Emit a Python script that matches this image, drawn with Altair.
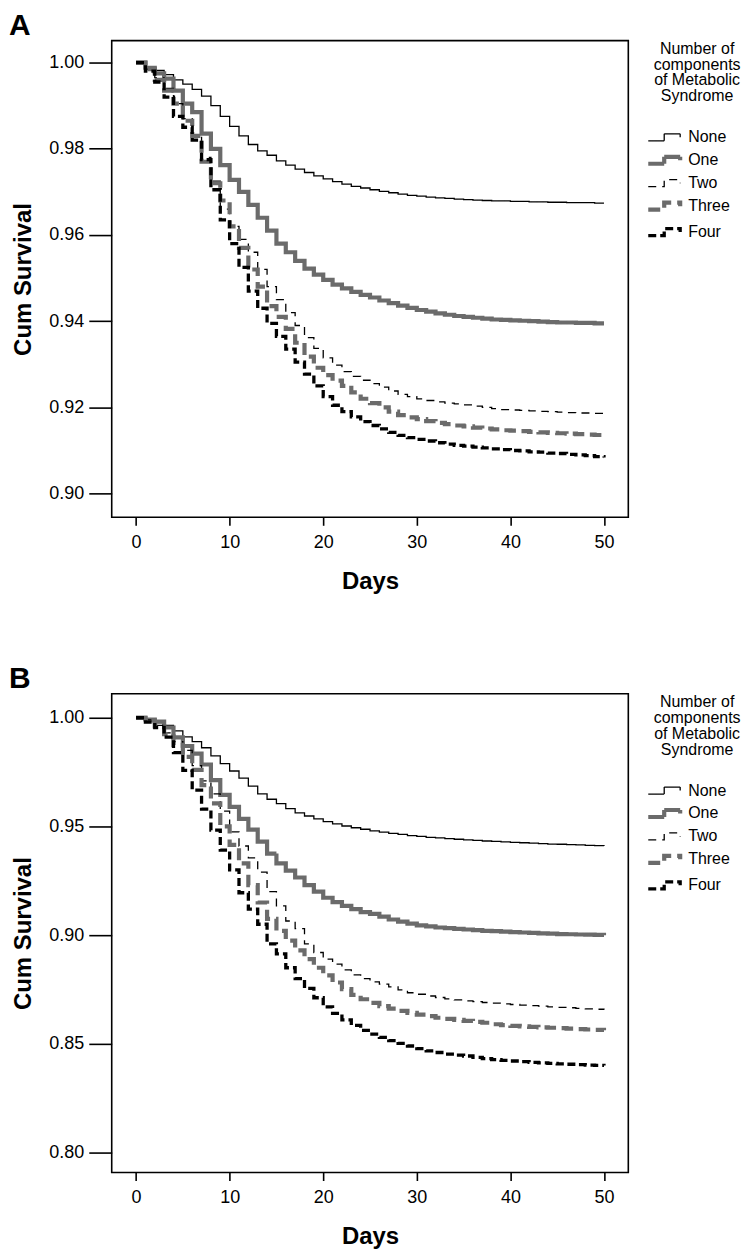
import altair as alt
import pandas as pd

FONT = "Liberation Sans"

days = list(range(0, 51))
groups = ["None", "One", "Two", "Three", "Four"]

# ---- Panel A (daily Kaplan-Meier steps) ----
a_none = [1.0000, 0.9990, 0.9982, 0.9972, 0.9960, 0.9950, 0.9938, 0.9922, 0.9900, 0.9875,
          0.9852, 0.9830, 0.9810, 0.9795, 0.9785, 0.9772, 0.9762, 0.9753, 0.9745, 0.9737,
          0.9730, 0.9724, 0.9718, 0.9713, 0.9709, 0.9705, 0.9701, 0.9698, 0.9695, 0.9692,
          0.9690, 0.9688, 0.9686, 0.9685, 0.9683, 0.9682, 0.9681, 0.9680, 0.9679, 0.9679,
          0.9678, 0.9678, 0.9677, 0.9677, 0.9676, 0.9676, 0.9675, 0.9675, 0.9675, 0.9674, 0.9674]
a_one = [1.0000, 0.9988, 0.9975, 0.9963, 0.9935, 0.9905, 0.9885, 0.9835, 0.9800, 0.9762,
         0.9728, 0.9700, 0.9670, 0.9640, 0.9610, 0.9580, 0.9560, 0.9540, 0.9522, 0.9508,
         0.9496, 0.9485, 0.9476, 0.9468, 0.9461, 0.9455, 0.9448, 0.9442, 0.9436, 0.9431,
         0.9426, 0.9422, 0.9418, 0.9415, 0.9412, 0.9410, 0.9408, 0.9406, 0.9404, 0.9403,
         0.9402, 0.9401, 0.9400, 0.9399, 0.9398, 0.9397, 0.9397, 0.9396, 0.9396, 0.9395, 0.9395]
a_two = [1.0000, 0.9985, 0.9965, 0.9940, 0.9905, 0.9870, 0.9830, 0.9780, 0.9725, 0.9660,
         0.9620, 0.9590, 0.9560, 0.9520, 0.9480, 0.9450, 0.9420, 0.9390, 0.9362, 0.9337,
         0.9315, 0.9298, 0.9283, 0.9272, 0.9263, 0.9255, 0.9247, 0.9238, 0.9230, 0.9225,
         0.9220, 0.9216, 0.9213, 0.9210, 0.9208, 0.9206, 0.9203, 0.9200, 0.9197, 0.9195,
         0.9194, 0.9193, 0.9192, 0.9191, 0.9190, 0.9189, 0.9188, 0.9187, 0.9187, 0.9186, 0.9186]
a_three = [1.0000, 0.9985, 0.9960, 0.9935, 0.9905, 0.9865, 0.9830, 0.9770, 0.9720, 0.9680,
           0.9620, 0.9570, 0.9520, 0.9480, 0.9435, 0.9410, 0.9382, 0.9350, 0.9318, 0.9292,
           0.9275, 0.9262, 0.9250, 0.9235, 0.9220, 0.9210, 0.9200, 0.9190, 0.9182, 0.9177,
           0.9173, 0.9168, 0.9164, 0.9161, 0.9158, 0.9156, 0.9153, 0.9151, 0.9149, 0.9147,
           0.9146, 0.9145, 0.9143, 0.9142, 0.9141, 0.9140, 0.9139, 0.9138, 0.9137, 0.9136, 0.9135]
a_four = [1.0000, 0.9980, 0.9955, 0.9920, 0.9875, 0.9850, 0.9820, 0.9775, 0.9705, 0.9635,
          0.9580, 0.9525, 0.9470, 0.9430, 0.9395, 0.9365, 0.9335, 0.9305, 0.9277, 0.9250,
          0.9225, 0.9205, 0.9190, 0.9178, 0.9167, 0.9158, 0.9150, 0.9142, 0.9135, 0.9130,
          0.9126, 0.9122, 0.9118, 0.9115, 0.9112, 0.9110, 0.9108, 0.9106, 0.9104, 0.9102,
          0.9100, 0.9099, 0.9097, 0.9096, 0.9094, 0.9093, 0.9091, 0.9090, 0.9088, 0.9086, 0.9084]

# ---- Panel B ----
b_none = [1.0000, 0.9988, 0.9978, 0.9965, 0.9940, 0.9912, 0.9890, 0.9862, 0.9825, 0.9789,
          0.9755, 0.9722, 0.9685, 0.9650, 0.9625, 0.9605, 0.9582, 0.9562, 0.9548, 0.9535,
          0.9522, 0.9512, 0.9502, 0.9494, 0.9487, 0.9480, 0.9474, 0.9468, 0.9463, 0.9458,
          0.9454, 0.9450, 0.9447, 0.9444, 0.9441, 0.9438, 0.9436, 0.9433, 0.9431, 0.9429,
          0.9427, 0.9425, 0.9423, 0.9421, 0.9419, 0.9418, 0.9416, 0.9415, 0.9413, 0.9412, 0.9410]
b_one = [1.0000, 0.9992, 0.9982, 0.9955, 0.9910, 0.9870, 0.9835, 0.9785, 0.9713, 0.9645,
         0.9590, 0.9535, 0.9485, 0.9430, 0.9375, 0.9330, 0.9297, 0.9265, 0.9230, 0.9200,
         0.9172, 0.9152, 0.9135, 0.9120, 0.9106, 0.9098, 0.9085, 0.9072, 0.9062, 0.9053,
         0.9045, 0.9040, 0.9035, 0.9032, 0.9029, 0.9026, 0.9023, 0.9020, 0.9018, 0.9016,
         0.9014, 0.9012, 0.9010, 0.9008, 0.9007, 0.9005, 0.9004, 0.9003, 0.9002, 0.9001, 0.9000]
b_two = [1.0000, 0.9990, 0.9965, 0.9930, 0.9890, 0.9850, 0.9780, 0.9710, 0.9650, 0.9570,
         0.9475, 0.9410, 0.9355, 0.9290, 0.9200, 0.9135, 0.9065, 0.9030, 0.8960, 0.8920,
         0.8890, 0.8867, 0.8840, 0.8817, 0.8800, 0.8785, 0.8775, 0.8762, 0.8748, 0.8735,
         0.8728, 0.8720, 0.8713, 0.8707, 0.8702, 0.8698, 0.8694, 0.8690, 0.8687, 0.8684,
         0.8681, 0.8678, 0.8676, 0.8673, 0.8670, 0.8668, 0.8666, 0.8663, 0.8661, 0.8659, 0.8657]
b_three = [1.0000, 0.9988, 0.9960, 0.9925, 0.9875, 0.9820, 0.9760, 0.9690, 0.9606, 0.9500,
           0.9415, 0.9330, 0.9230, 0.9150, 0.9075, 0.9020, 0.8975, 0.8930, 0.8890, 0.8850,
           0.8815, 0.8782, 0.8752, 0.8725, 0.8705, 0.8688, 0.8673, 0.8662, 0.8652, 0.8642,
           0.8634, 0.8627, 0.8620, 0.8615, 0.8610, 0.8606, 0.8601, 0.8597, 0.8590, 0.8586,
           0.8583, 0.8580, 0.8578, 0.8576, 0.8574, 0.8572, 0.8570, 0.8568, 0.8566, 0.8564, 0.8563]
b_four = [1.0000, 0.9980, 0.9955, 0.9911, 0.9840, 0.9758, 0.9667, 0.9580, 0.9483, 0.9391,
          0.9300, 0.9195, 0.9120, 0.9050, 0.8960, 0.8914, 0.8850, 0.8800, 0.8755, 0.8712,
          0.8670, 0.8640, 0.8610, 0.8585, 0.8562, 0.8545, 0.8530, 0.8515, 0.8502, 0.8490,
          0.8478, 0.8468, 0.8460, 0.8453, 0.8448, 0.8444, 0.8438, 0.8432, 0.8427, 0.8424,
          0.8421, 0.8418, 0.8415, 0.8412, 0.8410, 0.8408, 0.8406, 0.8404, 0.8402, 0.8401, 0.8400]

x_ticks = [0, 10, 20, 30, 40, 50]
a_yticks = [0.90, 0.92, 0.94, 0.96, 0.98, 1.00]
b_yticks = [0.80, 0.85, 0.90, 0.95, 1.00]

colors = ["#000000", "#6b6b6b", "#000000", "#6b6b6b", "#000000"]
dashes = [[1, 0], [1, 0], [8, 6], [12, 6], [8, 4]]
widths = [1.3, 4.2, 1.3, 4.2, 3.3]
width_of = dict(zip(groups, widths))

STEP_PATH = "M-2.4,0.35L-0.8,0.35L-0.8,-0.35L0.8,-0.35L0.8,0"
SYMBOL_WIDTH_EXPR = ("datum.value == 'One' || datum.value == 'Three' ? 4.2 : "
                     "datum.value == 'Four' ? 3.3 : 1.3")


def to_frame(series):
    rows = []
    for g, vals in zip(groups, series):
        for d, v in zip(days, vals):
            rows.append({"group": g, "day": d, "surv": v, "w": width_of[g]})
    return pd.DataFrame(rows)


def panel(df, letter, ydomain, yticks, height):
    legend = alt.Legend(
        title=["Number of", "components", "of Metabolic", "Syndrome"],
        titleFont=FONT, titleFontSize=16, titleFontWeight="normal", titleColor="black",
        titleAlign="center", titleAnchor="middle", titleLineHeight=16, titlePadding=25,
        labelFont=FONT, labelFontSize=16, labelColor="black", labelOffset=8,
        symbolType=STEP_PATH, symbolSize=400, rowPadding=3, offset=25,
        symbolStrokeWidth={"expr": SYMBOL_WIDTH_EXPR},
        orient="right",
    )
    return (
        alt.Chart(
            df,
            title=alt.TitleParams(letter, anchor="start", frame="group", fontSize=30,
                                  fontWeight="bold", font=FONT, color="black", offset=0,
                                  dx=-103),
        )
        .mark_line(interpolate="step-after", strokeCap="butt")
        .encode(
            x=alt.X("day:Q", scale=alt.Scale(domain=[-2.6, 52.6], nice=False, zero=False),
                    axis=alt.Axis(values=x_ticks, title="Days", tickSize=8, labelPadding=8,
                                  titlePadding=18)),
            y=alt.Y("surv:Q", scale=alt.Scale(domain=ydomain, nice=False, zero=False),
                    axis=alt.Axis(values=yticks, format=".2f", title="Cum Survival",
                                  tickSize=23, labelPadding=5, titlePadding=13)),
            color=alt.Color("group:N", scale=alt.Scale(domain=groups, range=colors), legend=legend),
            strokeDash=alt.StrokeDash("group:N", scale=alt.Scale(domain=groups, range=dashes), legend=legend),
            strokeWidth=alt.StrokeWidth("w:Q", scale=None),
        )
        .properties(width=518, height=height)
    )


chart_a = panel(to_frame([a_none, a_one, a_two, a_three, a_four]), "A", [0.8945, 1.0051], a_yticks, 478)
chart_b = panel(to_frame([b_none, b_one, b_two, b_three, b_four]), "B", [0.7908, 1.011], b_yticks, 480)

chart = (
    alt.vconcat(chart_a, chart_b, spacing=69)
    .resolve_scale(color="independent", strokeDash="independent")
    .resolve_legend(color="independent", strokeDash="independent")
    .properties(padding={"left": 0, "top": 0, "right": 0, "bottom": 0})
    .configure(font=FONT)
    .configure_view(stroke="black", strokeWidth=1.6)
    .configure_axis(
        grid=False, domain=False, labelFont=FONT, labelFontSize=18, labelColor="black",
        tickColor="black", tickWidth=1.6, titleFont=FONT, titleFontWeight="bold",
        titleColor="black", titleFontSize=24,
    )
)

chart.save("out.html", embed_options={"renderer": "svg", "actions": False})
